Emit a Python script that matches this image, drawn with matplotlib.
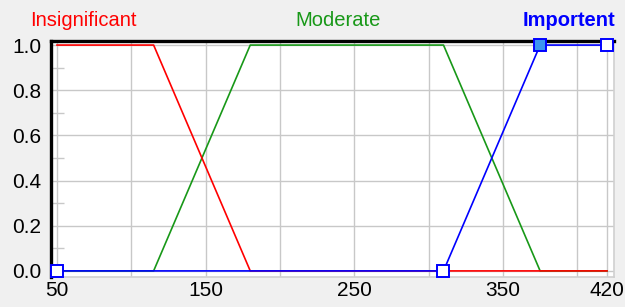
import matplotlib.pyplot as plt

plt.rcParams['font.family'] = ['Liberation Sans', 'DejaVu Sans']

# membership functions
set_names = ['Insignificant', 'Moderate', 'Importent']
red_x = [50, 115, 180, 420]
red_y = [1, 1, 0, 0]
green_x = [50, 115, 180, 310, 375, 420]
green_y = [0, 0, 1, 1, 0, 0]
blue_x = [50, 310, 375, 420]
blue_y = [0, 0, 1, 1]
selected = 2  # the highlighted point of the blue set

x_ticks = [50, 150, 250, 350, 420]
x_grid = [50, 100, 150, 200, 250, 300, 350, 400, 420]
y_ticks = [0.0, 0.2, 0.4, 0.6, 0.8, 1.0]
y_minor = [0.1, 0.3, 0.5, 0.7, 0.9]

fig = plt.figure(figsize=(6.25, 3.07), dpi=100, facecolor='#f0f0f0')
ax = fig.add_axes([51 / 625, 1 - 277 / 307, 563 / 625, 236 / 307])
ax.set_facecolor('white')

grid_col = '#c8c8c8'
for gx in x_grid:
    ax.axvline(gx, color=grid_col, lw=1.0, zorder=1)
for gy in y_ticks:
    ax.axhline(gy, color=grid_col, lw=1.0, zorder=1)

ax.plot(green_x, green_y, color='#189818', lw=1.2, zorder=3)
ax.plot(red_x, red_y, color='#ff0000', lw=1.2, zorder=4)
ax.plot(blue_x, blue_y, color='#0000ff', lw=1.2, zorder=5)

open_idx = [i for i in range(len(blue_x)) if i != selected]
ax.plot([blue_x[i] for i in open_idx], [blue_y[i] for i in open_idx], 's',
        ms=8.5, mfc='white', mec='#0000ff', mew=1.4, zorder=6, clip_on=False)
ax.plot([blue_x[selected]], [blue_y[selected]], 's', ms=8.5, mfc='#3c96f0',
        mec='#0000ff', mew=1.4, zorder=6, clip_on=False)

ax.set_xlim(45.96, 424.7)
ax.set_ylim(-0.027, 1.018)
ax.set_xticks(x_ticks)
ax.set_yticks(y_ticks)
ax.set_yticklabels([f'{v:.1f}' for v in y_ticks])
ax.set_yticks(y_minor, minor=True)
ax.tick_params(axis='both', which='major', length=0, labelsize=15, colors='#000000')
ax.tick_params(axis='y', which='major', pad=7)
ax.tick_params(axis='x', which='major', pad=3)
ax.tick_params(axis='y', which='minor', direction='in', length=9, width=1.0,
               color=grid_col)
ax.tick_params(axis='x', which='minor', length=0)

for side in ['left', 'top']:
    ax.spines[side].set_color('black')
    ax.spines[side].set_linewidth(2.4)
for side in ['right', 'bottom']:
    ax.spines[side].set_color('#d0d0d0')
    ax.spines[side].set_linewidth(1.2)

fig.text(83.5 / 625, 1 - 21 / 307, set_names[0], color='#ff0000', fontsize=14.5,
         ha='center', va='center')
fig.text(338.5 / 625, 1 - 21 / 307, set_names[1], color='#189818', fontsize=14.5,
         ha='center', va='center')
fig.text(569 / 625, 1 - 21 / 307, set_names[2], color='#0000ff', fontsize=14.5,
         fontweight='bold', ha='center', va='center')

fig.savefig('out.png', dpi=100, facecolor=fig.get_facecolor())
